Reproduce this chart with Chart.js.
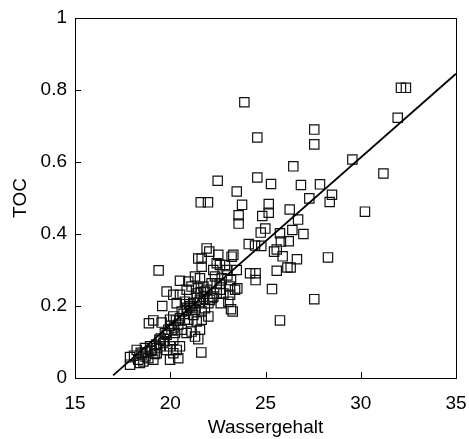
<!DOCTYPE html>
<html>
<head>
<meta charset="utf-8">
<script src="https://cdn.jsdelivr.net/npm/chart.js@4/dist/chart.umd.min.js"></script>
<style>
html,body{margin:0;padding:0;background:#fff;}
#wrap{width:469px;height:439px;position:relative;}
</style>
</head>
<body>
<div id="wrap"><canvas id="c" width="469" height="439"></canvas></div>
<script>
const xTicks = [15, 20, 25, 30, 35];
const yTicks = [0, 0.2, 0.4, 0.6, 0.8, 1];

const wasser = [
23.89,32.11,32.37,31.94,24.57,27.56,27.56,29.56,26.46,31.19,
22.49,24.57,25.29,26.86,27.86,27.30,28.49,28.37,30.22,23.49,
23.77,21.60,21.98,23.59,23.59,24.83,25.17,25.17,26.27,26.71,
26.41,26.99,25.76,24.99,24.75,24.78,24.12,24.45,25.81,26.22,
25.59,25.45,25.90,26.65,28.28,26.15,26.32,25.59,24.19,24.48,
24.48,25.34,27.56,25.76,19.39,21.63,
17.89,17.89,18.24,18.32,18.50,18.59,18.76,18.85,19.02,19.11,
19.20,19.29,18.41,18.67,18.94,18.88,19.11,19.55,19.58,19.81,
19.43,19.64,19.81,19.99,19.99,20.42,20.51,20.16,20.07,20.25,
20.16,19.99,20.16,20.51,20.34,20.60,20.51,20.95,20.77,20.86,
20.95,21.12,21.30,21.47,21.04,21.30,21.47,21.56,21.65,21.65,
21.91,22.05,21.39,21.56,21.65,21.65,21.77,21.91,22.00,22.17,
22.26,22.35,22.44,22.52,22.61,22.65,22.70,22.87,22.96,23.05,
23.14,23.14,23.19,23.22,23.31,23.19,23.28,23.40,23.49,23.52,
22.61,22.26,22.00,20.77,20.42,20.60,19.72,19.46,19.29,19.81,
20.16,20.86,21.12,21.21,21.39,21.56,22.09,21.82,22.44,20.51,
20.34,19.90,20.86,21.30,21.56,21.12,21.74,22.44,22.79,21.47,
21.21,18.10,18.45,18.70,19.00,19.25,19.50,19.70,20.00,20.30,
20.70,21.00,21.40,21.80,22.20,22.60,23.00,20.20,20.90,21.60
];
const toc = [
0.766,0.806,0.806,0.723,0.668,0.690,0.649,0.607,0.588,0.568,
0.548,0.557,0.539,0.536,0.538,0.499,0.509,0.489,0.462,0.518,
0.481,0.488,0.488,0.452,0.429,0.450,0.483,0.459,0.468,0.440,
0.411,0.400,0.402,0.415,0.404,0.367,0.372,0.368,0.379,0.380,
0.357,0.351,0.338,0.330,0.335,0.307,0.307,0.298,0.291,0.291,
0.272,0.247,0.219,0.160,0.299,0.071,
0.058,0.037,0.078,0.051,0.065,0.046,0.071,0.055,0.078,0.051,
0.067,0.083,0.042,0.083,0.088,0.152,0.160,0.154,0.200,0.240,
0.106,0.097,0.120,0.088,0.051,0.055,0.088,0.106,0.134,0.125,
0.171,0.162,0.231,0.231,0.208,0.185,0.270,0.268,0.212,0.189,
0.162,0.129,0.115,0.108,0.199,0.282,0.249,0.277,0.309,0.332,
0.360,0.351,0.235,0.208,0.185,0.162,0.226,0.245,0.208,0.263,
0.300,0.282,0.319,0.342,0.245,0.208,0.277,0.314,0.300,0.212,
0.231,0.254,0.272,0.337,0.342,0.191,0.185,0.245,0.300,0.249,
0.314,0.226,0.171,0.162,0.148,0.134,0.125,0.088,0.069,0.078,
0.069,0.245,0.194,0.175,0.157,0.134,0.217,0.194,0.235,0.166,
0.078,0.134,0.125,0.189,0.217,0.254,0.254,0.263,0.235,0.332,
0.208,0.062,0.070,0.060,0.075,0.092,0.110,0.102,0.145,0.160,
0.178,0.205,0.222,0.240,0.222,0.262,0.285,0.140,0.195,0.238
];

const fitX = [17, 35];
const fitY = [0.0074, 0.845];

const FONT = "'Liberation Sans', Arial, sans-serif";

const boxPlugin = {
  id: 'box',
  afterDatasetsDraw(chart) {
    const {ctx, chartArea: a, scales} = chart;
    ctx.save();
    ctx.strokeStyle = '#000';
    ctx.lineWidth = 1;
    ctx.strokeRect(Math.round(a.left) + 0.5, Math.round(a.top) + 0.5,
                   Math.round(a.right - a.left), Math.round(a.bottom - a.top));
    ctx.beginPath();
    scales.x.ticks.forEach(t => {
      const px = Math.round(scales.x.getPixelForValue(t.value)) + 0.5;
      ctx.moveTo(px, a.bottom); ctx.lineTo(px, a.bottom - 6);
    });
    scales.y.ticks.forEach(t => {
      const py = Math.round(scales.y.getPixelForValue(t.value)) + 0.5;
      ctx.moveTo(a.left, py); ctx.lineTo(a.left + 6, py);
    });
    ctx.stroke();
    ctx.restore();
  }
};

new Chart(document.getElementById('c'), {
  type: 'scatter',
  data: {
    datasets: [
      {
        type: 'scatter',
        data: wasser.map((x, i) => ({x: x, y: toc[i]})),
        pointStyle: 'rect',
        pointRadius: 6.6,
        backgroundColor: 'rgba(0,0,0,0)',
        borderColor: '#111',
        borderWidth: 1.2,
        order: 2
      },
      {
        type: 'line',
        data: fitX.map((x, i) => ({x: x, y: fitY[i]})),
        borderColor: '#000',
        borderWidth: 1.8,
        pointRadius: 0,
        fill: false,
        order: 1
      }
    ]
  },
  options: {
    responsive: false,
    animation: false,
    devicePixelRatio: 1,
    layout: {autoPadding: false, padding: {top: 18, right: 13, left: 0, bottom: 0}},
    plugins: {legend: {display: false}, tooltip: {enabled: false}},
    scales: {
      x: {
        type: 'linear',
        min: 15, max: 35,
        afterBuildTicks: s => { s.ticks = xTicks.map(v => ({value: v})); },
        afterFit: s => { s.height = 61; s.paddingLeft = 0; s.paddingRight = 0; },
        grid: {display: false, drawTicks: false},
        border: {display: false},
        ticks: {
          color: '#000', padding: 14, maxRotation: 0,
          font: {family: FONT, size: 19},
          callback: v => String(v)
        },
        title: {
          display: true, text: 'Wassergehalt', color: '#000',
          font: {family: FONT, size: 19},
          padding: {top: 0, bottom: 0}
        }
      },
      y: {
        type: 'linear',
        min: 0, max: 1,
        afterBuildTicks: s => { s.ticks = yTicks.map(v => ({value: v})); },
        afterFit: s => { s.width = 75; s.paddingTop = 0; s.paddingBottom = 0; },
        grid: {display: false, drawTicks: false},
        border: {display: false},
        ticks: {
          color: '#000', padding: 8,
          font: {family: FONT, size: 19},
          callback: v => String(v)
        },
        title: {
          display: true, text: 'TOC', color: '#000',
          font: {family: FONT, size: 19},
          padding: {top: 9, bottom: 0}
        }
      }
    }
  },
  plugins: [boxPlugin]
});
</script>
</body>
</html>
